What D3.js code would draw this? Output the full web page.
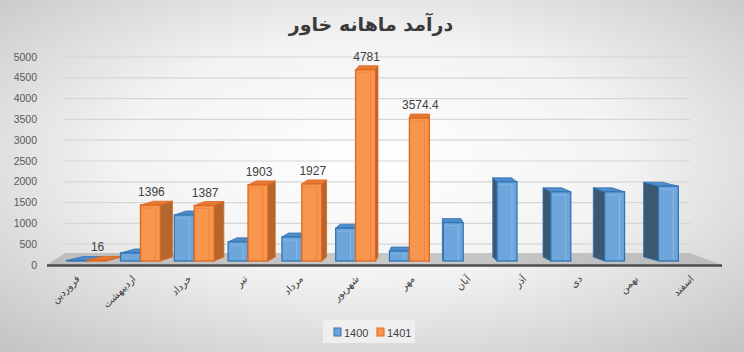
<!DOCTYPE html>
<html>
<head>
<meta charset="utf-8">
<script src="https://cdn.jsdelivr.net/npm/d3@7"></script>
<style>
  html, body { margin: 0; padding: 0; }
  body { width: 744px; height: 352px; overflow: hidden; }
  svg { display: block; }
</style>
</head>
<body>
<div id="chart"></div>
<script>
// monthly income, two years (1400 / 1401)
const categories = ["فروردین", "اردیبهشت", "خرداد", "تیر", "مرداد", "شهریور", "مهر", "آبان", "آذر", "دی", "بهمن", "اسفند"];
const seriesNames = ["1400", "1401"];
const values1400 = [12, 200, 1150, 480, 600, 820, 250, 960, 1980, 1730, 1730, 1870];
const values1401 = [16, 1396, 1387, 1903, 1927, 4781, 3574.4, null, null, null, null, null];
const yTicks = [0, 500, 1000, 1500, 2000, 2500, 3000, 3500, 4000, 4500, 5000];
const titleText = "درآمد ماهانه خاور";

const width = 744, height = 352;

// fake 3d settings
const vx = 430;       // where the side faces disappear
const kLeft = 0.045;  // side depth left of vx
const kRight = 0.065; // side depth right of vx
const depth = 4;      // top face height

const colors = {
  "1400": { front: "#6ea6db", stroke: "#2e75b6", top: "#4f8ccb", side: "#3c5770", sideL: "#3f6e9c", inner: "#8fc0ea" },
  "1401": { front: "#f9964d", stroke: "#e0661c", top: "#e57a35", side: "#b3662e", sideL: "#b3662e", inner: "#e98043" }
};

const svg = d3.select("#chart").append("svg")
  .attr("width", width)
  .attr("height", height);

const defs = svg.append("defs");
const bg = defs.append("radialGradient").attr("id", "bg")
  .attr("cx", "50%").attr("cy", "45%").attr("r", "75%");
bg.append("stop").attr("offset", "0%").attr("stop-color", "#ffffff");
bg.append("stop").attr("offset", "45%").attr("stop-color", "#f3f3f3");
bg.append("stop").attr("offset", "100%").attr("stop-color", "#c2c2c2");

const floorGrad = defs.append("linearGradient").attr("id", "floorGrad")
  .attr("x1", 0).attr("x2", 1).attr("y1", 0).attr("y2", 0);
floorGrad.append("stop").attr("offset", "0%").attr("stop-color", "#bdbdbd");
floorGrad.append("stop").attr("offset", "50%").attr("stop-color", "#c9c9c9");
floorGrad.append("stop").attr("offset", "100%").attr("stop-color", "#bcbcbc");

svg.append("rect")
  .attr("width", width).attr("height", height)
  .attr("fill", "url(#bg)");

// title
svg.append("text")
  .attr("x", 371).attr("y", 31)
  .attr("text-anchor", "middle")
  .style("font-family", "'DejaVu Sans', sans-serif")
  .style("font-weight", "bold")
  .style("font-size", "19px")
  .attr("fill", "#3a3a3a")
  .text(titleText);

// scales
const yAxis = d3.scaleLinear().domain([0, 5000]).range([265, 57]);
const yBar = d3.scaleLinear().domain([0, 5000]).range([261, 61]);
const x = d3.scaleBand().domain(categories).range([56, 709])
  .paddingInner(0.26).paddingOuter(0.2);
const xs = d3.scaleBand().domain(seriesNames).range([0, x.bandwidth()]);
const xLabel = d3.scalePoint().domain(categories).range([78, 692]);

// back wall gridlines
svg.append("g")
  .selectAll("line")
  .data(yTicks.filter(t => t > 0))
  .join("line")
  .attr("x1", 64).attr("x2", 690)
  .attr("y1", d => yAxis(d)).attr("y2", d => yAxis(d))
  .attr("stroke", "#d6d6d6")
  .attr("stroke-width", 1.2);

// y tick labels
svg.append("g")
  .selectAll("text")
  .data(yTicks)
  .join("text")
  .attr("x", 37)
  .attr("y", d => yAxis(d))
  .attr("dy", "0.35em")
  .attr("text-anchor", "end")
  .style("font-family", "'Liberation Sans', Arial, sans-serif")
  .style("font-size", "10.5px")
  .attr("fill", "#595959")
  .text(d => d);

// floor
svg.append("polygon")
  .attr("points", "47,265 722,265 690,253 65,253")
  .attr("fill", "url(#floorGrad)");
svg.append("line")
  .attr("x1", 47).attr("x2", 722)
  .attr("y1", 265.5).attr("y2", 265.5)
  .attr("stroke", "#4d4d4d")
  .attr("stroke-width", 2.5);

// build bar list
const bars = [];
categories.forEach((cat, i) => {
  const list = [
    { cat, series: "1400", value: values1400[i] },
    { cat, series: "1401", value: values1401[i] }
  ].filter(d => d.value !== null);
  const left = x(cat) + x.bandwidth() / 2 < vx;
  // draw far pieces first so the nearer front covers their side faces
  if (!left) list.reverse();
  list.forEach(d => bars.push(d));
});

const barG = svg.append("g");

bars.forEach(d => {
  const c = colors[d.series];
  const l = x(d.cat) + xs(d.series);
  const r = l + xs.bandwidth();
  const yb = yBar(0);
  const yt = yBar(d.value);
  const k = (l + r) / 2 < vx ? kLeft : kRight;
  const dl = (vx - l) * k;
  const dr = (vx - r) * k;
  const g = barG.append("g");

  // side face
  if (dr > 0) {
    g.append("polygon")
      .attr("points", [[r, yb], [r, yt], [r + dr, yt - depth], [r + dr, yb - depth]].join(" "))
      .attr("fill", c.sideL)
      .attr("stroke", c.stroke).attr("stroke-width", 0.8);
  } else if (dl < 0) {
    g.append("polygon")
      .attr("points", [[l, yb], [l, yt], [l + dl, yt - depth], [l + dl, yb - depth]].join(" "))
      .attr("fill", c.side)
      .attr("stroke", c.stroke).attr("stroke-width", 0.8);
  }

  // top face
  g.append("polygon")
    .attr("points", [[l, yt], [r, yt], [r + dr, yt - depth], [l + dl, yt - depth]].join(" "))
    .attr("fill", c.top)
    .attr("stroke", c.stroke).attr("stroke-width", 0.8);

  // front face
  g.append("rect")
    .attr("x", l).attr("y", yt)
    .attr("width", r - l).attr("height", Math.max(0, yb - yt))
    .attr("fill", c.front)
    .attr("stroke", c.stroke)
    .attr("stroke-width", 1.3);

  // inner edge seen through the face
  if (yb - yt > 8) {
    g.append("line")
      .attr("x1", r - 5).attr("x2", r - 5)
      .attr("y1", yt + 3).attr("y2", yb - 1)
      .attr("stroke", c.inner).attr("stroke-width", 1).attr("opacity", 0.8);
    g.append("line")
      .attr("x1", l + 1).attr("x2", r - 5)
      .attr("y1", yt + 3).attr("y2", yt + 3)
      .attr("stroke", c.inner).attr("stroke-width", 1).attr("opacity", 0.6);
  }
});

// data labels (1401 only)
svg.append("g")
  .selectAll("text")
  .data(categories.map((cat, i) => ({ cat, value: values1401[i] })).filter(d => d.value !== null))
  .join("text")
  .attr("x", d => x(d.cat) + xs("1401") + xs.bandwidth() / 2 + 1)
  .attr("y", d => yBar(d.value) - 9)
  .attr("text-anchor", "middle")
  .style("font-family", "'Liberation Sans', Arial, sans-serif")
  .style("font-size", "12px")
  .attr("fill", "#404040")
  .text(d => d.value);

// category labels, rotated
svg.append("g")
  .selectAll("text")
  .data(categories)
  .join("text")
  .attr("transform", d => `translate(${xLabel(d)},277) rotate(-45)`)
  .attr("dy", "0.35em")
  .attr("text-anchor", "end")
  .style("font-family", "'DejaVu Sans', sans-serif")
  .style("font-size", "10px")
  .attr("fill", "#404040")
  .text(d => d);

// legend
const legend = svg.append("g");
legend.append("rect")
  .attr("x", 323).attr("y", 320)
  .attr("width", 92).attr("height", 23)
  .attr("fill", "#f2f2f2").attr("opacity", 0.8);
const legendX = { "1400": 334, "1401": 377 };
seriesNames.forEach(s => {
  legend.append("rect")
    .attr("x", legendX[s]).attr("y", 328)
    .attr("width", 7).attr("height", 8)
    .attr("fill", colors[s].front)
    .attr("stroke", colors[s].stroke);
  legend.append("text")
    .attr("x", legendX[s] + 10).attr("y", 336.5)
    .style("font-family", "'Liberation Sans', Arial, sans-serif")
    .style("font-size", "11px")
    .attr("fill", "#404040")
    .text(s);
});
</script>
</body>
</html>
